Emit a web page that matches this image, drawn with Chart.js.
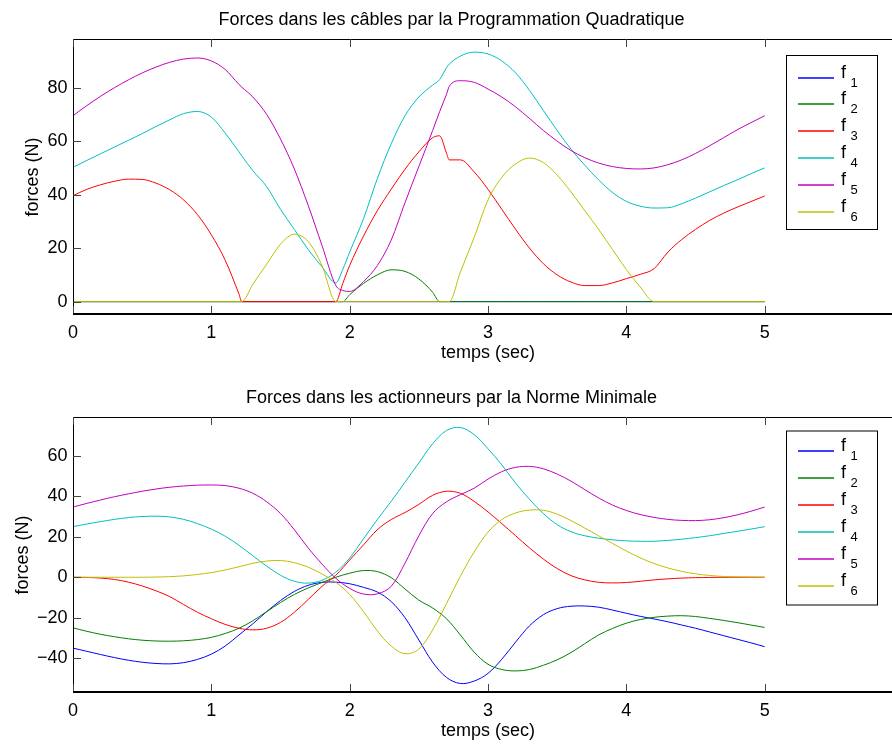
<!DOCTYPE html>
<html>
<head>
<meta charset="utf-8">
<script src="https://cdn.jsdelivr.net/npm/chart.js"></script>
<style>
  html, body { margin: 0; padding: 0; background: #fff; overflow: hidden; width: 892px; height: 744px; }
  canvas { position: absolute; left: 0; }
  #haut { top: 0; }
  #bas { top: 378px; }
</style>
</head>
<body>
<canvas id="haut" width="910" height="372"></canvas>
<canvas id="bas" width="910" height="372"></canvas>
<script>
// ---- donnees ----
const noms = ["f_1", "f_2", "f_3", "f_4", "f_5", "f_6"];
const couleurs = ["#0000ff", "#008000", "#ff0000", "#00bfbf", "#bf00bf", "#bfbf00"];
const xTicks = [0, 1, 2, 3, 4, 5];
const yTicksHaut = [0, 20, 40, 60, 80];
const yTicksBas = [-40, -20, 0, 20, 40, 60];

// programmation quadratique (temps en sec)
const tHaut = [0, 0.1, 0.2, 0.3, 0.4, 0.5, 0.6, 0.7, 0.8, 0.9, 1.0, 1.1, 1.2, 1.22, 1.3, 1.4, 1.5, 1.6, 1.7, 1.8, 1.9, 1.95,
  2.0, 2.1, 2.2, 2.3, 2.4, 2.5, 2.6, 2.65, 2.7, 2.72, 2.8, 2.9, 3.0, 3.1, 3.2, 3.3, 3.4, 3.5, 3.6, 3.7, 3.8, 3.9,
  4.0, 4.1, 4.2, 4.3, 4.4, 4.5, 4.6, 4.7, 4.8, 4.9, 5.0];
const f1Haut = [0, 0, 0, 0, 0, 0, 0, 0, 0, 0, 0, 0, 0, 0, 0, 0, 0, 0, 0, 0, 0, 0,
  0, 0, 0, 0, 0, 0, 0, 0, 0, 0, 0, 0, 0, 0, 0, 0, 0, 0, 0, 0, 0, 0,
  0, 0, 0, 0, 0, 0, 0, 0, 0, 0, 0];
const f2Haut = [0, 0, 0, 0, 0, 0, 0, 0, 0, 0, 0, 0, 0, 0, 0, 0, 0, 0, 0, 0, 0, 0,
  2.6, 6.8, 10, 11.9, 11.3, 8.5, 3.5, 0, 0, 0, 0, 0, 0, 0, 0, 0, 0, 0, 0, 0, 0, 0,
  0, 0, 0, 0, 0, 0, 0, 0, 0, 0, 0];
const f3Haut = [39.6, 42, 43.7, 45, 45.8, 45.7, 44.3, 41.8, 38, 32.5, 25, 15.5, 2.8, 0, 0, 0, 0, 0, 0, 0, 0, 6.8,
  13.5, 24.5, 34, 42, 49.5, 56, 61.3, 62, 55.5, 53, 53, 48.5, 42, 34.5, 27, 20, 14.2, 10, 7.3, 6, 6, 7,
  8.6, 10.2, 12.3, 18.5, 23.2, 27, 30.3, 33, 35.3, 37.4, 39.5];
const f4Haut = [50.2, 52.8, 55.3, 57.8, 60.3, 62.8, 65.5, 68, 70.3, 71.1, 69, 63, 56, 54.5, 49, 43, 34.5, 27, 19.5, 13, 7, 12,
  18.5, 31, 46, 59, 69.5, 76.5, 81, 83, 87.5, 88.8, 91.8, 93.3, 92.6, 90, 85.5, 79, 71.5, 64, 57, 51, 45.5, 40.8,
  37.5, 35.7, 35, 35.1, 36.6, 38.7, 41, 43.3, 45.5, 47.8, 50];
const f5Haut = [69.5, 73.3, 76.8, 80, 82.9, 85.5, 87.7, 89.5, 90.7, 91.1, 90, 86.8, 81.2, 80.2, 76.5, 70, 60.8, 49.6, 36, 21, 6, 4.2,
  3.8, 7.5, 13.5, 23, 37, 50.5, 64, 71, 77.5, 80.5, 82.6, 82, 79.5, 76.5, 72.8, 68.5, 64, 60, 56.5, 53.8, 51.8, 50.5,
  49.8, 49.6, 50, 51.2, 53, 55.4, 58.2, 61.2, 64.2, 66.9, 69.5];
const f6Haut = [0, 0, 0, 0, 0, 0, 0, 0, 0, 0, 0, 0, 0, 0, 6.5, 14, 21.5, 25.2, 22.5, 13.5, 0, 0,
  0, 0, 0, 0, 0, 0, 0, 0, 0, 0, 11, 24, 38, 46.5, 51.5, 53.7, 52, 47.3, 41, 34, 27, 19.5,
  12, 5.5, 0, 0, 0, 0, 0, 0, 0, 0, 0];

// norme minimale
const tBas = [0, 0.1, 0.2, 0.3, 0.4, 0.5, 0.6, 0.7, 0.8, 0.9, 1.0, 1.1, 1.2, 1.3, 1.4, 1.5, 1.6, 1.7, 1.8, 1.9,
  2.0, 2.1, 2.2, 2.3, 2.4, 2.5, 2.6, 2.7, 2.8, 2.9, 3.0, 3.1, 3.2, 3.3, 3.4, 3.5, 3.6, 3.7, 3.8, 3.9,
  4.0, 4.1, 4.2, 4.3, 4.4, 4.5, 4.6, 4.7, 4.8, 4.9, 5.0];
const f1Bas = [-35, -36.6, -38.2, -39.7, -41, -42, -42.6, -42.8, -42.2, -40.6, -38, -34, -28.5, -23, -17, -11.5, -7, -4, -2.5, -2.4,
  -3.2, -5, -7.3, -12, -20, -31, -42, -49.5, -52.5, -51.3, -47.5, -40.5, -32, -24, -18.5, -15.5, -14.3, -14.2, -14.8, -16.2,
  -17.8, -19.3, -20.6, -22, -23.6, -25.2, -27, -28.8, -30.6, -32.4, -34.3];
const f2Bas = [-25, -26.7, -28.2, -29.4, -30.4, -31.1, -31.5, -31.6, -31.4, -30.8, -29.7, -27.8, -25.2, -21.5, -17, -12.5, -8.5, -5.3, -2.6, 0,
  2, 3.3, 2.8, -0.2, -5.8, -11.3, -15.2, -20.5, -28.5, -37, -43, -45.6, -46.3, -45.6, -43.5, -40.8, -37.2, -32.8, -28.5, -25.3,
  -22.7, -20.9, -19.8, -19.2, -19, -19.4, -20.3, -21.3, -22.4, -23.6, -24.8];
const f3Bas = [0, -0.1, -0.4, -1.1, -2.4, -4.3, -6.7, -9.6, -13.5, -17.3, -20.5, -23.3, -25.2, -26, -25.2, -22.3, -17.3, -11, -4.5, 1,
  8.5, 16, 23.5, 28.5, 32, 36, 40.5, 42.5, 41.5, 37.5, 32.3, 26.5, 20.5, 14.5, 9, 4.3, 0.8, -1.3, -2.5, -2.8,
  -2.6, -2, -1.3, -0.8, -0.4, -0.2, -0.1, 0, 0, 0, 0];
const f4Bas = [25, 26.3, 27.5, 28.6, 29.5, 30, 30.2, 29.8, 28.6, 26.5, 23.8, 20.3, 15.8, 10.6, 5.5, 1, -2, -2.9, -1.5, 2.5,
  9.5, 19, 28.5, 37.5, 47, 56.5, 66, 72.5, 74, 70.5, 63.5, 55.5, 46.5, 38.5, 31.5, 26, 22.5, 20.5, 19.3, 18.5,
  18, 17.8, 17.8, 18.2, 18.8, 19.6, 20.5, 21.6, 22.7, 23.8, 25];
const f5Bas = [34.7, 36.5, 38.2, 39.8, 41.2, 42.5, 43.6, 44.5, 45.1, 45.5, 45.6, 45.3, 44, 41.5, 37.3, 31.5, 23.5, 14.5, 6.5, -0.5,
  -5.5, -8.3, -8.2, -4.5, 7, 20.5, 31.5, 37.3, 40.8, 44, 48.5, 52.2, 54.3, 54.8, 53.6, 51, 47.5, 43.3, 39.2, 35.7,
  33, 31, 29.6, 28.6, 28.1, 28, 28.4, 29.4, 30.8, 32.6, 34.7];
const f6Bas = [0, 0, 0, 0, 0, 0, 0.1, 0.3, 0.7, 1.4, 2.3, 3.6, 5.2, 6.9, 8, 8.3, 7.2, 5, 1.6, -2.5,
  -8.5, -17, -26.5, -34, -37.8, -35.5, -26, -13, 0.5, 12.5, 22.3, 28.5, 31.8, 33.2, 33.1, 31.2, 28, 24.3, 20.5, 16.7,
  13, 9.6, 6.8, 4.6, 2.9, 1.7, 0.9, 0.4, 0.2, 0.1, 0];

// ---- rendu ----
Chart.defaults.font.family = '"Liberation Sans", Arial, Helvetica, sans-serif';
Chart.defaults.font.size = 18;
Chart.defaults.color = "#000";

// cadre + graduations vers l'interieur, facon matlab
const cadre = {
  id: "cadre",
  afterDatasetsDraw(chart) {
    const { ctx, chartArea: a, scales: { x, y } } = chart;
    const l = Math.round(a.left), t = Math.round(a.top), r = Math.round(a.right), b = Math.round(a.bottom);
    ctx.save();
    ctx.strokeStyle = "#000";
    ctx.lineWidth = 1;
    ctx.beginPath();
    ctx.moveTo(l + 0.5, b);
    ctx.lineTo(l + 0.5, t + 0.5);
    ctx.lineTo(r - 0.5, t + 0.5);
    ctx.lineTo(r - 0.5, b);
    ctx.stroke();
    ctx.lineWidth = 2;
    ctx.beginPath();
    ctx.moveTo(l, b - 1);
    ctx.lineTo(r, b - 1);
    ctx.stroke();

    ctx.strokeStyle = "#444";
    ctx.lineWidth = 1;
    ctx.beginPath();
    x.ticks.forEach(tk => {
      const px = Math.round(x.getPixelForValue(tk.value)) + 0.5;
      ctx.moveTo(px, t); ctx.lineTo(px, t + 8);
      ctx.moveTo(px, b - 2); ctx.lineTo(px, b - 9);
    });
    y.ticks.forEach(tk => {
      const py = Math.round(y.getPixelForValue(tk.value)) + 0.5;
      ctx.moveTo(l, py); ctx.lineTo(l + 8, py);
      ctx.moveTo(r, py); ctx.lineTo(r - 8, py);
    });
    ctx.stroke();
    ctx.restore();
  }
};

// legende avec indices
const legendeF = {
  id: "legendeF",
  afterDraw(chart, args, opts) {
    const ctx = chart.ctx;
    ctx.save();
    ctx.fillStyle = "#fff";
    ctx.fillRect(opts.left, opts.top, opts.width, opts.height);
    ctx.strokeStyle = "#000";
    ctx.lineWidth = 1;
    ctx.strokeRect(opts.left + 0.5, opts.top + 0.5, opts.width, opts.height);
    chart.data.datasets.forEach((ds, i) => {
      const y = Math.round(opts.top + opts.first + i * opts.step);
      ctx.strokeStyle = couleurs[i];
      ctx.lineWidth = 1.3;
      ctx.beginPath();
      ctx.moveTo(opts.left + 12, y);
      ctx.lineTo(opts.left + 48, y);
      ctx.stroke();
      const [base, indice] = ds.label.split("_");
      ctx.fillStyle = "#000";
      ctx.textBaseline = "alphabetic";
      ctx.font = '18px "Liberation Sans", Arial, sans-serif';
      ctx.fillText(base, opts.left + 55, y);
      ctx.font = '13px "Liberation Sans", Arial, sans-serif';
      ctx.fillText(indice, opts.left + 64.5, y + 8.5);
    });
    ctx.restore();
  }
};

function fmt(v) {
  return v < 0 ? "\u2212" + Math.abs(v) : String(v);
}

function dessiner(id, titre, temps, series, yMin, yMax, yTicks, padTitreY, legende, lissage) {
  const datasets = series.map((vals, i) => ({
    label: noms[i],
    data: temps.map((t, k) => ({ x: t, y: vals[k] })),
    borderColor: couleurs[i],
    borderWidth: 1,
    pointRadius: 0,
    fill: false,
    order: series.length - i,
    ...lissage
  }));
  return new Chart(document.getElementById(id), {
    type: "line",
    data: { datasets },
    options: {
      responsive: false,
      animation: false,
      events: [],
      layout: { padding: { left: 0, top: 0, right: 7, bottom: 0 } },
      plugins: {
        legend: { display: false },
        tooltip: { enabled: false },
        title: {
          display: true,
          text: titre,
          color: "#000",
          font: { size: 18, weight: "normal" },
          padding: { top: 9, bottom: 8.4 }
        },
        legendeF: legende
      },
      scales: {
        x: {
          type: "linear",
          min: 0,
          max: 6,
          grid: { display: false, drawTicks: false },
          border: { display: false },
          afterBuildTicks: s => { s.ticks = xTicks.map(v => ({ value: v })); },
          afterFit: s => { s.height = 57; },
          ticks: { padding: 7, maxRotation: 0, autoSkip: false, callback: fmt },
          title: { display: true, text: "temps (sec)", padding: { top: 0, bottom: 8 } }
        },
        y: {
          type: "linear",
          min: yMin,
          max: yMax,
          grid: { display: false, drawTicks: false },
          border: { display: false },
          afterBuildTicks: s => { s.ticks = yTicks.map(v => ({ value: v })); },
          afterFit: s => { s.width = 73; },
          ticks: { padding: 5.5, autoSkip: false, callback: fmt },
          title: { display: true, text: "forces (N)", padding: { top: padTitreY, bottom: 0 } }
        }
      }
    },
    plugins: [cadre, legendeF]
  });
}

dessiner("haut", "Forces dans les câbles par la Programmation Quadratique", tHaut,
  [f1Haut, f2Haut, f3Haut, f4Haut, f5Haut, f6Haut], -5, 98.2, yTicksHaut, 22.5,
  { left: 786, top: 55, width: 91, height: 174, first: 22.5, step: 26.8 },
  { cubicInterpolationMode: "monotone" });

dessiner("bas", "Forces dans les actionneurs par la Norme Minimale", tBas,
  [f1Bas, f2Bas, f3Bas, f4Bas, f5Bas, f6Bas], -57.2, 79.2, yTicksBas, 11.9,
  { left: 786, top: 52.5, width: 91, height: 174, first: 20.5, step: 26.9 },
  { tension: 0.35 });
</script>
</body>
</html>
